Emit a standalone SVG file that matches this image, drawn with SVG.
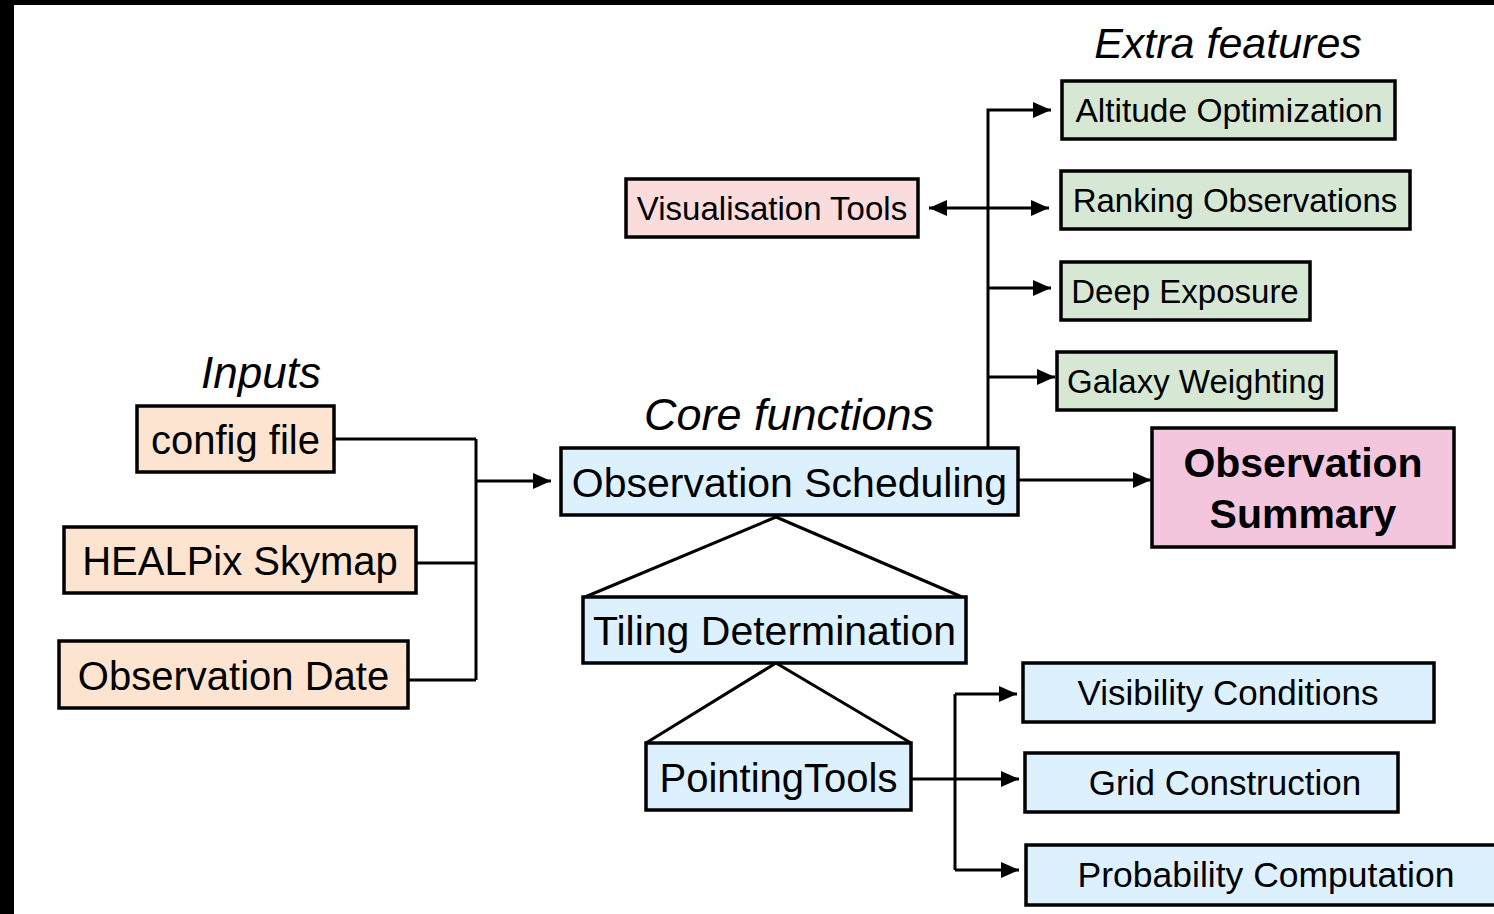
<svg xmlns="http://www.w3.org/2000/svg" width="1494" height="914" viewBox="0 0 1494 914">
<style>
.box{stroke:#000;stroke-width:3.5}
.in{fill:#fde4d0}
.blue{fill:#dcf0fd}
.green{fill:#d6e7d4}
.vis{fill:#fbdcdc}
.sum{fill:#f3c6dd}
text{font-family:"Liberation Sans",Arial,Helvetica,sans-serif;fill:#000;text-anchor:middle}
.it{font-style:italic}
.conn path,.conn polyline{fill:none;stroke:#000;stroke-width:3}
</style>
<defs>
<marker id="ah" viewBox="0 0 18 16" refX="18" refY="8" markerWidth="18" markerHeight="16" markerUnits="userSpaceOnUse" orient="auto-start-reverse">
<path d="M0,0 L18,8 L0,16 z" fill="#000"/>
</marker>
</defs>
<rect width="1494" height="914" fill="#fff"/>
<rect x="0" y="0" width="14" height="914" fill="#000"/>
<rect x="0" y="0" width="1494" height="5" fill="#000"/>

<text class="it" x="1228" y="58" font-size="43">Extra features</text>
<text class="it" x="261" y="388" font-size="44">Inputs</text>
<text class="it" x="789" y="430" font-size="45">Core functions</text>

<g class="conn">
<path d="M334,439 H476 M416,563 H476 M408,680 H476 M476,439 V680"/>
<path d="M476,481 H551" marker-end="url(#ah)"/>
<path d="M1018,480 H1151" marker-end="url(#ah)"/>
<path d="M988,448 V110 H1051" marker-end="url(#ah)"/>
<path d="M929,208 H1049" marker-start="url(#ah)" marker-end="url(#ah)"/>
<path d="M988,288 H1051" marker-end="url(#ah)"/>
<path d="M988,377 H1055" marker-end="url(#ah)"/>
<polyline points="585,597 776,517 962,597"/>
<polyline points="646,743 776,663 911,743"/>
<path d="M955,694 V870"/>
<path d="M955,694 H1017" marker-end="url(#ah)"/>
<path d="M911,779 H1019" marker-end="url(#ah)"/>
<path d="M955,870 H1019" marker-end="url(#ah)"/>
</g>

<g id="altitude"><rect class="box green" x="1062" y="81" width="333" height="58"/><text x="1229" y="122" font-size="33.5">Altitude Optimization</text></g>
<g id="ranking"><rect class="box green" x="1061" y="171" width="349" height="58"/><text x="1235" y="212" font-size="33">Ranking Observations</text></g>
<g id="visualisation"><rect class="box vis" x="626" y="179" width="292" height="58"/><text x="772" y="220" font-size="33">Visualisation Tools</text></g>
<g id="deep"><rect class="box green" x="1061" y="262" width="249" height="58"/><text x="1185" y="303" font-size="33">Deep Exposure</text></g>
<g id="galaxy"><rect class="box green" x="1057" y="352" width="279" height="58"/><text x="1196" y="393" font-size="33">Galaxy Weighting</text></g>

<g id="config"><rect class="box in" x="137" y="406" width="197" height="66"/><text x="235.5" y="454" font-size="40">config file</text></g>
<g id="healpix"><rect class="box in" x="64" y="527" width="352" height="66"/><text x="240" y="575" font-size="40">HEALPix Skymap</text></g>
<g id="date"><rect class="box in" x="59" y="641" width="349" height="67"/><text x="233.5" y="690" font-size="40">Observation Date</text></g>

<g id="scheduling"><rect class="box blue" x="561" y="448" width="457" height="67"/><text x="789.5" y="497" font-size="41">Observation Scheduling</text></g>
<g id="summary"><rect class="box sum" x="1152" y="428" width="302" height="119"/><text x="1303" y="477" font-size="41" font-weight="bold">Observation</text><text x="1303" y="528" font-size="41" font-weight="bold">Summary</text></g>
<g id="tiling"><rect class="box blue" x="583" y="597" width="383" height="66"/><text x="774.5" y="645" font-size="41">Tiling Determination</text></g>
<g id="pointing"><rect class="box blue" x="646" y="743" width="265" height="67"/><text x="778.5" y="792" font-size="40">PointingTools</text></g>

<g id="visibility"><rect class="box blue" x="1023" y="663" width="411" height="59"/><text x="1228" y="705" font-size="35">Visibility Conditions</text></g>
<g id="grid"><rect class="box blue" x="1025" y="753" width="373" height="59"/><text x="1225" y="795" font-size="35">Grid Construction</text></g>
<g id="probability"><rect class="box blue" x="1026" y="845" width="480" height="60"/><text x="1266" y="887" font-size="35.5">Probability Computation</text></g>
</svg>
